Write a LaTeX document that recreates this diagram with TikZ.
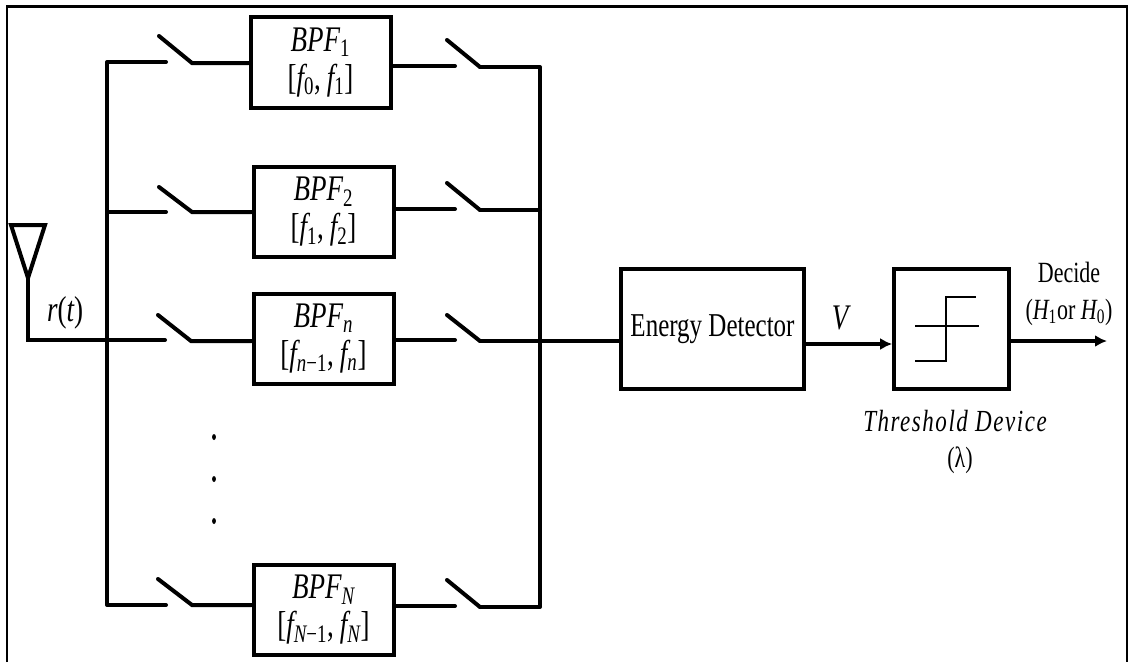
\documentclass[tikz,border=0pt]{standalone}
\usepackage{fontspec}
\setmainfont{Liberation Serif}
\newfontfamily\narrowfont[FakeStretch=0.75]{Liberation Serif}
\usetikzlibrary{arrows.meta}
\newcommand{\var}[1]{{\itshape #1}}
\newcommand{\low}[1]{\textsubscript{#1}}
\tikzset{
  wire/.style={line width=3pt,line cap=round,line join=miter},
  thinwire/.style={line width=2.2pt},
  bpfbox/.style={draw,line width=3pt,minimum width=105pt,minimum height=68pt,inner sep=0pt,align=center,
    font=\narrowfont\fontsize{27}{28.5}\selectfont},
  sigarrow/.style={line width=3pt,-{Latex[length=9pt,width=9pt]}},
  labelbig/.style={font=\narrowfont\fontsize{27}{28}\selectfont},
  labelsmall/.style={font=\narrowfont\fontsize{22}{24}\selectfont}
}
\begin{document}
\begin{tikzpicture}[x=0.75pt,y=-0.75pt]
  \useasboundingbox (0,0) rectangle (1131,662);
  % ramecek, dole otevreny
  \draw[line width=1.6pt] (7,662) -- (7,6.5) -- (1127,6.5) -- (1127,662);

  % filtry
  \node[bpfbox] (bpf1) at (320.5,62.5) {\var{BPF}\low{1}\\{}[\var{f}\low{0},\,\var{f}\low{1}]};
  \node[bpfbox] (bpf2) at (323.5,212) {\var{BPF}\low{2}\\{}[\var{f}\low{1},\,\var{f}\low{2}]};
  \node[bpfbox] (bpf3) at (323.5,339) {\var{BPF}\low{\var{n}}\\{}[\var{f}\low{\var{n}−1},\,\var{f}\low{\var{n}}]};
  \node[bpfbox] (bpf4) at (323.5,610) {\var{BPF}\low{\var{N}}\\{}[\var{f}\low{\var{N}−1},\,\var{f}\low{\var{N}}]};

  % detektor a prah
  \node[draw,line width=3pt,minimum width=137pt,minimum height=90pt,inner sep=0pt,
    font=\narrowfont\fontsize{25}{28}\selectfont] (det) at (712.5,329) {\raisebox{-4pt}{Energy Detector}};
  \node[draw,line width=3pt,minimum width=86pt,minimum height=90pt,inner sep=0pt] (thr) at (951.5,329) {};

  % popisky
  \node[labelbig] (rt) at (65,313) {\var{r}(\var{t})};
  \node[labelbig] (vv) at (840,318) {\var{V}};
  \node[labelsmall] (dec) at (1069,272) {Decide};
  \node[labelsmall] (hh) at (1069,312) {(\var{H}\low{1}or \var{H}\low{0})};
  \node[font=\narrowfont\addfontfeature{LetterSpace=5}\fontsize{23}{26}\selectfont] (tdev) at (955,421) {\var{Threshold Device}};
  \node[labelsmall] (lam) at (960,460) {(λ)};

  % anteny a vstup
  \coordinate (antl) at (11,225);
  \coordinate (antr) at (45,225);
  \coordinate (ant) at (28,278);
  \coordinate (feed) at (28,340);
  \draw[line width=3pt,line join=miter] (antl) -- (antr) -- (ant) -- cycle;

  % sbernice vlevo
  \coordinate (busa1) at (107,62);
  \coordinate (busa2) at (107,212);
  \coordinate (busa3) at (107,340);
  \coordinate (busa4) at (107,605);
  \draw[line width=3pt] (ant) -- (feed) -- (busa3);
  \draw[wire,line cap=butt] (busa1) -- (busa4);

  % spinace pred filtry
  \coordinate (ina1) at (166,62);  \coordinate (inb1) at (159,36);  \coordinate (inc1) at (192,63);
  \coordinate (ina2) at (166,212); \coordinate (inb2) at (159,187); \coordinate (inc2) at (192,212);
  \coordinate (ina3) at (165,340); \coordinate (inb3) at (158,315); \coordinate (inc3) at (191,341);
  \coordinate (ina4) at (166,605); \coordinate (inb4) at (158,579); \coordinate (inc4) at (192,605);
  \draw[wire] (busa1) -- (ina1);
  \draw[wire] (busa2) -- (ina2);
  \draw[wire] (busa3) -- (ina3);
  \draw[wire] (busa4) -- (ina4);
  \draw[wire] (inb1) -- (inc1) -- (inc1 -| bpf1.west);
  \draw[wire] (inb2) -- (inc2) -- (inc2 -| bpf2.west);
  \draw[wire] (inb3) -- (inc3) -- (inc3 -| bpf3.west);
  \draw[wire] (inb4) -- (inc4) -- (inc4 -| bpf4.west);

  % spinace za filtry
  \coordinate (outa1) at (455,66);  \coordinate (outb1) at (447,40);  \coordinate (outc1) at (480,67);
  \coordinate (outa2) at (455,209); \coordinate (outb2) at (447,183); \coordinate (outc2) at (480,210);
  \coordinate (outa3) at (455,340); \coordinate (outb3) at (447,315); \coordinate (outc3) at (480,341);
  \coordinate (outa4) at (455,606); \coordinate (outb4) at (447,580); \coordinate (outc4) at (480,607);
  \draw[wire] (outa1 -| bpf1.east) -- (outa1);
  \draw[wire] (outa2 -| bpf2.east) -- (outa2);
  \draw[wire] (outa3 -| bpf3.east) -- (outa3);
  \draw[wire] (outa4 -| bpf4.east) -- (outa4);
  \draw[wire] (outb1) -- (outc1);
  \draw[wire] (outb2) -- (outc2);
  \draw[wire] (outb3) -- (outc3);
  \draw[wire] (outb4) -- (outc4);

  % sbernice vpravo
  \coordinate (busb1) at (540,67);
  \coordinate (busb2) at (540,210);
  \coordinate (busb3) at (540,341);
  \coordinate (busb4) at (540,607);
  \draw[wire,line cap=butt] (busb1) -- (busb4);
  \draw[wire] (outc1) -- (busb1);
  \draw[wire] (outc2) -- (busb2);
  \draw[wire] (outc4) -- (busb4);
  \draw[wire] (outc3) -- (outc3 -| det.west);

  % vystupy
  \draw[sigarrow] (det.east |- 0,344) -- (thr.west |- 0,344);
  \coordinate (end) at (1107,341);
  \draw[sigarrow] (thr.east |- end) -- (end);

  % prahova charakteristika
  \coordinate (stepa) at (915,361);
  \coordinate (stepb) at (946,361);
  \coordinate (stepc) at (946,297);
  \coordinate (stepd) at (976,297);
  \draw[thinwire] (stepa) -- (stepb) -- (stepc) -- (stepd);
  \coordinate (mida) at (915,326);
  \coordinate (midb) at (979,326);
  \draw[thinwire] (mida) -- (midb);

  % tecky
  \fill (214,437) ellipse (1.9 and 3);
  \fill (214,479) ellipse (1.9 and 3);
  \fill (214,521) ellipse (1.9 and 3);
\end{tikzpicture}
\end{document}
